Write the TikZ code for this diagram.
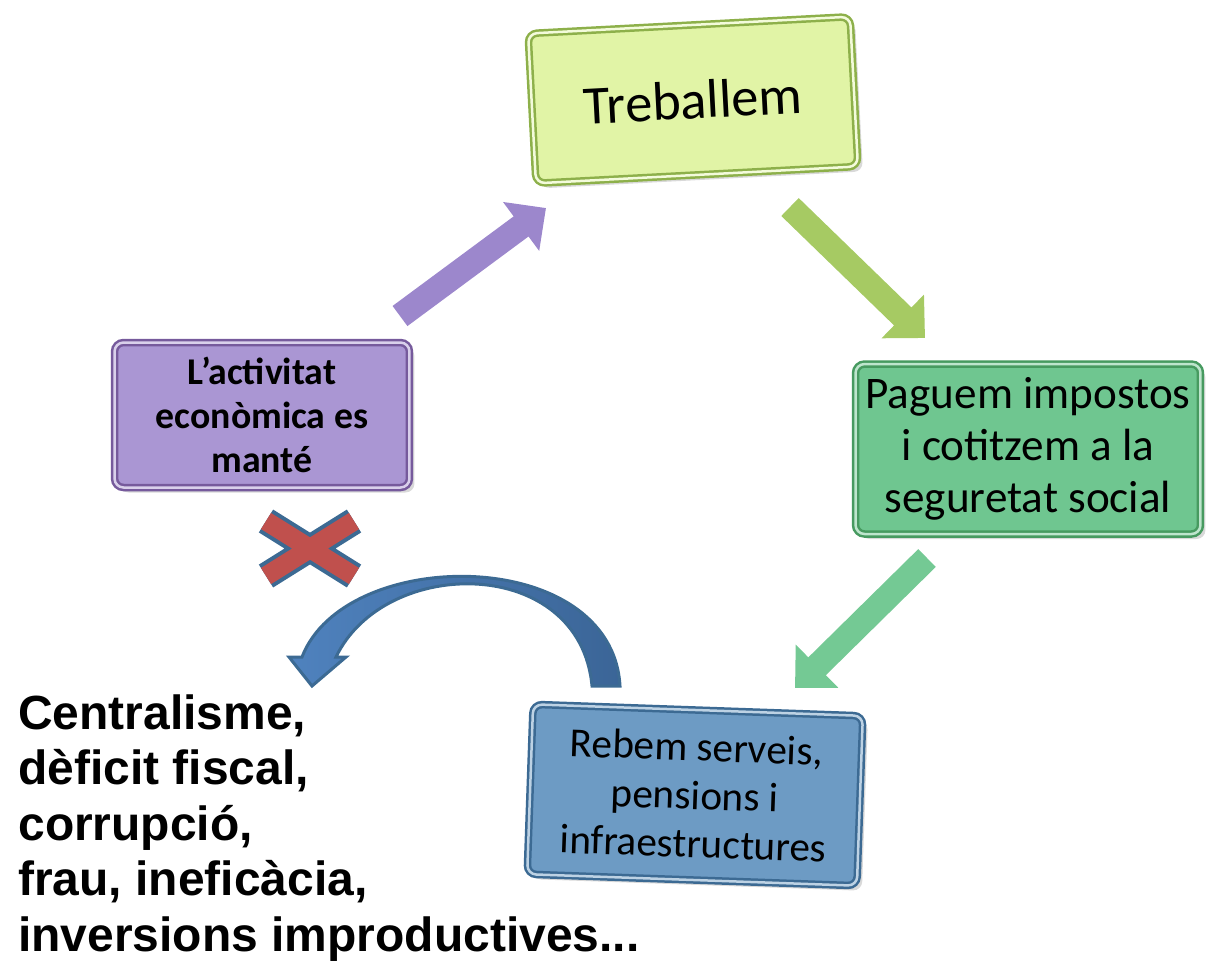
\documentclass[tikz,border=0pt]{standalone}
\usepackage{fontspec}
\setmainfont{Carlito}
\newfontfamily\arialfont{Liberation Sans}
\usetikzlibrary{arrows.meta,shadows}

\definecolor{limefill}{HTML}{E1F4A6}
\definecolor{limedraw}{HTML}{8DB04A}
\definecolor{limearrow}{HTML}{A6CA63}
\definecolor{lilafill}{HTML}{AA96D3}
\definecolor{liladraw}{HTML}{765A9C}
\definecolor{lilaarrow}{HTML}{9C87CC}
\definecolor{mintfill}{HTML}{6FC690}
\definecolor{mintdraw}{HTML}{479A60}
\definecolor{mintarrow}{HTML}{74C994}
\definecolor{bluefill}{HTML}{6D9BC4}
\definecolor{bluedraw}{HTML}{3C6A93}
\definecolor{bluelight}{HTML}{4F82BE}
\definecolor{bluedark}{HTML}{3B6597}
\definecolor{crossred}{HTML}{C0504D}

\begin{document}
\begin{tikzpicture}[x=0.02cm,y=-0.02cm,
    box/.style={rectangle,rounded corners=0.18cm,draw,line width=0.05cm,double distance=0.05cm,
        align=center,inner sep=0pt,text=black,
        drop shadow={opacity=0.3,shadow xshift=0.1cm,shadow yshift=-0.1cm}},
    fat arrow/.style={line width=0.5cm,-{Triangle[width=1.18cm,length=0.62cm]}}]

    \useasboundingbox (0,0) rectangle (1209,965);

    \node[box,fill=limefill,draw=limedraw,double=limefill!40!white,minimum width=6.45cm,minimum height=3.0cm,rotate=3,
        font=\fontsize{31}{37}\selectfont] (1) at (693,100) {Treballem};
    \node[box,fill=mintfill,draw=mintdraw,double=mintfill!45!white,minimum width=6.9cm,minimum height=3.4cm,
        font=\fontsize{25.7}{29.5}\selectfont] (2) at (1028,449) {Paguem impostos\\i cotitzem a la\\seguretat social};
    \node[box,fill=bluefill,draw=bluedraw,double=bluefill!45!white,minimum width=6.6cm,minimum height=3.4cm,rotate=-2,
        font=\fontsize{23.5}{27.5}\selectfont] (3) at (695,795) {Rebem serveis,\\pensions i\\infraestructures};
    \node[box,fill=lilafill,draw=liladraw,double=lilafill!45!white,minimum width=5.9cm,minimum height=2.9cm,
        font=\bfseries\fontsize{21.5}{25}\selectfont] (4) at (262,415) {L’activitat\\econòmica es\\manté};

    \node[anchor=north west,inner sep=0pt,align=left,
        font=\arialfont\bfseries\fontsize{27.3}{31.6}\selectfont] (5) at (18,694)
        {Centralisme,\\dèficit fiscal,\\corrupció,\\frau, ineficàcia,\\inversions improductives...};

    % ends of the fat arrows
    \coordinate (4a) at (400,316);
    \coordinate (1a) at (546,208);
    \coordinate (1b) at (790,207);
    \coordinate (2b) at (925,338);
    \coordinate (2c) at (927,558);
    \coordinate (3c) at (795,688);

    \path
        (4a) edge[fat arrow,lilaarrow] (1a)
        (1b) edge[fat arrow,limearrow] (2b)
        (2c) edge[fat arrow,mintarrow] (3c)
        ;

    % the crossed out way back
    \coordinate (x1) at (266,521);
    \coordinate (x2) at (354,576);
    \coordinate (x3) at (266,576);
    \coordinate (x4) at (354,521);
    \draw[line width=0.54cm,bluedraw] (x1) -- (x2) (x3) -- (x4);
    \draw[line width=0.38cm,crossred] (x1) -- (x2) (x3) -- (x4);

    \filldraw[draw=bluedraw,line width=0.06cm,left color=bluelight,right color=bluedark]
        (620,686) .. controls (612,545) and (345,545) .. (302,657)
        -- (289,657) -- (312,686) -- (346,657) -- (336,657)
        .. controls (385,555) and (580,555) .. (592,686) -- cycle;
\end{tikzpicture}
\end{document}
